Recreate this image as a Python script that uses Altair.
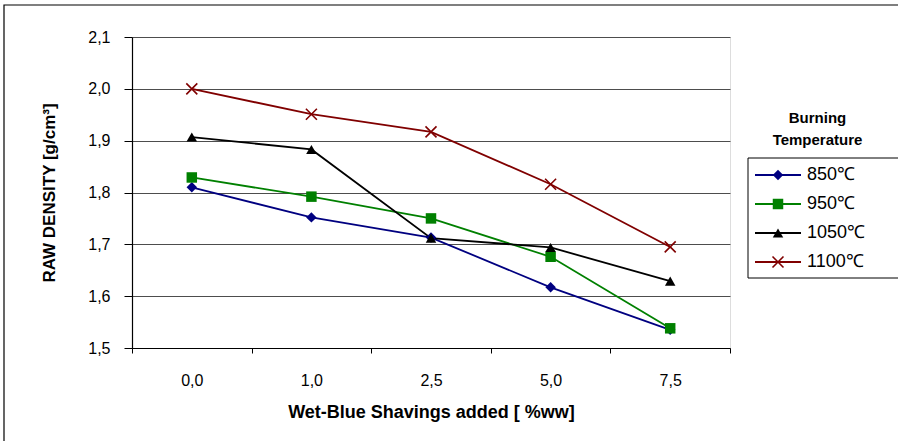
import altair as alt
import pandas as pd

# Wet-blue shavings content (x categories)
shavings = ["0,0", "1,0", "2,5", "5,0", "7,5"]

# Burning temperatures (series)
temps = ["850℃", "950℃", "1050℃", "1100℃"]

# Raw density [g/cm3] for each temperature
density_850 = [1.810, 1.752, 1.713, 1.617, 1.535]
density_950 = [1.829, 1.792, 1.750, 1.676, 1.538]
density_1050 = [1.907, 1.883, 1.712, 1.694, 1.629]
density_1100 = [2.000, 1.951, 1.917, 1.816, 1.695]

y_ticks = [1.5, 1.6, 1.7, 1.8, 1.9, 2.0, 2.1]

colors = ["#000080", "#008000", "#000000", "#800000"]

series = [density_850, density_950, density_1050, density_1100]
rows = []
for t, vals in zip(temps, series):
    for s, v in zip(shavings, vals):
        rows.append({"shavings": s, "temp": t, "density": v})
df = pd.DataFrame(rows)
legend_df = pd.DataFrame({"temp": temps})

FONT = "Liberation Sans"
W, H = 598, 311

# "x" marker drawn as a stroked path
XMARK = "M-1,-1L1,1M-1,1L1,-1"

color_enc = alt.Color(
    "temp:N",
    scale=alt.Scale(domain=temps, range=colors),
    sort=temps,
    legend=None,
)
shape_enc = alt.Shape(
    "temp:N",
    scale=alt.Scale(domain=temps[:3], range=["diamond", "square", "triangle-up"]),
    legend=None,
)

x_enc = alt.X(
    "shavings:O",
    sort=shavings,
    bandPosition=0.5,
    scale=alt.Scale(type="band", domain=shavings, paddingInner=0, paddingOuter=0),
    axis=alt.Axis(
        title="Wet-Blue Shavings added [ %ww]",
        titleFont=FONT,
        titleFontSize=18,
        titleFontWeight="bold",
        titleColor="#000000",
        titleX=W / 2,
        titleY=69,
        titleBaseline="alphabetic",
        titleAlign="center",
        labelFont=FONT,
        labelFontSize=16,
        labelColor="#000000",
        labelAngle=0,
        labelPadding=19,
        tickBand="extent",
        tickSize=5,
        tickColor="#000000",
        domainColor="#000000",
        domainWidth=1.2,
        grid=False,
    ),
)

y_enc = alt.Y(
    "density:Q",
    scale=alt.Scale(domain=[1.5, 2.1], nice=False, zero=False),
    axis=alt.Axis(
        title="RAW DENSITY [g/cm³]",
        titleFont=FONT,
        titleFontSize=17,
        titleFontWeight="bold",
        titleColor="#000000",
        titleAngle=270,
        titleX=-78,
        titleY=H / 2,
        titleBaseline="alphabetic",
        titleAlign="center",
        values=y_ticks,
        labelExpr="replace(format(datum.value, '.1f'), '.', ',')",
        labelFont=FONT,
        labelFontSize=16,
        labelColor="#000000",
        labelPadding=14,
        tickSize=8,
        tickColor="#000000",
        domainColor="#000000",
        domainWidth=1.2,
        grid=True,
        gridColor="#4d4d4d",
        gridWidth=1,
    ),
)

base = alt.Chart(df)

lines = base.mark_line(strokeWidth=1.8).encode(
    x=x_enc, y=y_enc, color=color_enc, detail="temp:N"
)

filled_points = base.transform_filter(
    alt.datum.temp != "1100℃"
).mark_point(filled=True, opacity=1, size=110).encode(
    x=x_enc, y=y_enc, color=color_enc, shape=shape_enc
)

cross_points = base.transform_filter(
    alt.datum.temp == "1100℃"
).mark_point(filled=False, shape=XMARK, size=121, strokeWidth=1.6, opacity=1).encode(
    x=x_enc, y=y_enc, color=color_enc
)

# ---- legend, drawn from the series list ----
leg_y = alt.Y(
    "temp:N",
    sort=temps,
    scale=alt.Scale(type="point", domain=temps, range=[138, 225], padding=0),
    axis=None,
)
leg_base = alt.Chart(legend_df)

leg_lines = leg_base.mark_rule(strokeWidth=1.8).encode(
    x=alt.value(623), x2=alt.value(669), y=leg_y, color=color_enc
)
leg_filled = leg_base.transform_filter(
    alt.datum.temp != "1100℃"
).mark_point(filled=True, opacity=1, size=110).encode(
    x=alt.value(646), y=leg_y, color=color_enc, shape=shape_enc
)
leg_cross = leg_base.transform_filter(
    alt.datum.temp == "1100℃"
).mark_point(filled=False, shape=XMARK, size=121, strokeWidth=1.6, opacity=1).encode(
    x=alt.value(646), y=leg_y, color=color_enc
)
leg_text = leg_base.mark_text(
    align="left", baseline="middle", font=FONT, fontSize=18, color="#000000"
).encode(x=alt.value(675), y=leg_y, text="temp:N")

one = alt.Data(values=[{}])

leg_box = alt.Chart(one).mark_rect(
    fill="transparent", stroke="#000000", strokeWidth=1
).encode(x=alt.value(616), x2=alt.value(800), y=alt.value(121), y2=alt.value(241))

leg_title = alt.Chart(one).mark_text(
    text="Burning\nTemperature",
    lineBreak="\n",
    lineHeight=22,
    font=FONT,
    fontSize=15,
    fontWeight="bold",
    align="center",
    baseline="alphabetic",
    color="#000000",
).encode(x=alt.value(685.5), y=alt.value(86))

# outer chart frame (right and bottom edges run past the canvas)
frame = alt.Chart(one).mark_rect(
    fill="transparent", stroke="#000000", strokeWidth=1.2
).encode(x=alt.value(-128), x2=alt.value(800), y=alt.value(-32), y2=alt.value(460))

data_layers = alt.layer(lines, filled_points, cross_points)
legend_layers = alt.layer(leg_box, leg_lines, leg_filled, leg_cross, leg_text, leg_title, frame)

chart = alt.layer(data_layers, legend_layers).resolve_scale(
    y="independent"
).properties(
    width=W,
    height=H,
    autosize=alt.AutoSizeParams(type="none"),
    padding={"left": 132, "top": 37, "right": 168, "bottom": 93},
    background="#ffffff",
).configure_view(
    stroke="#808080", strokeWidth=1.5
).configure(font=FONT)

chart.save("out.html", embed_options={"renderer": "svg", "actions": False})
